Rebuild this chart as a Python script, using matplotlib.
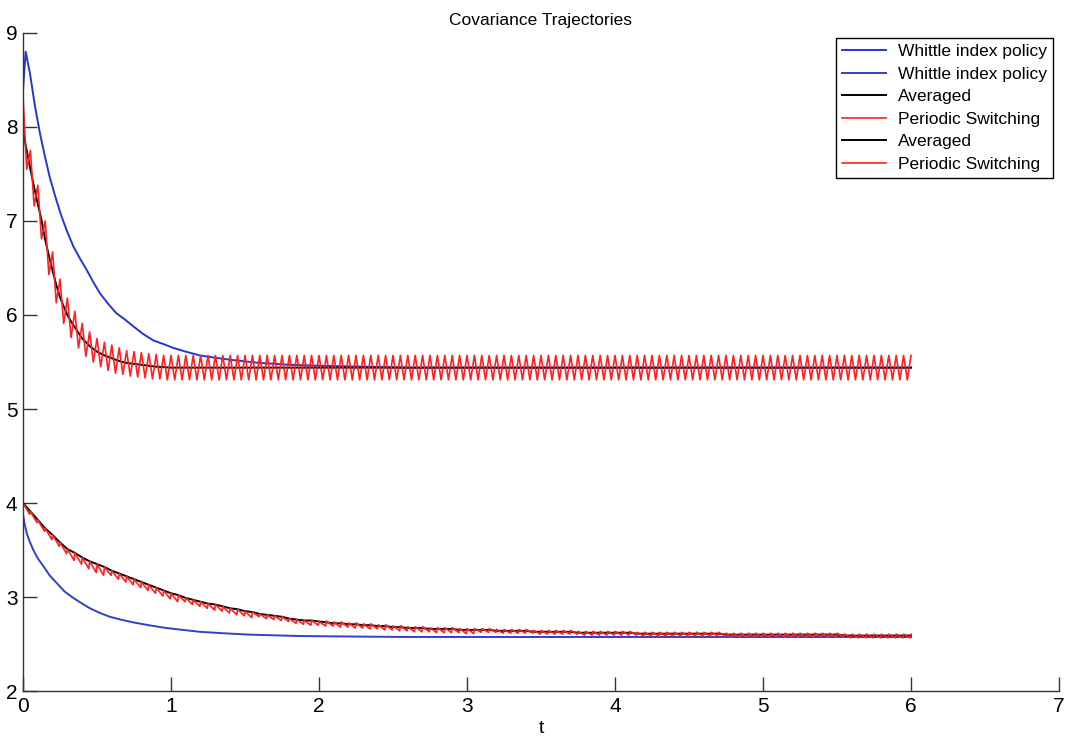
import numpy as np
import matplotlib
matplotlib.use("Agg")
import matplotlib.pyplot as plt

plt.rcParams['font.family'] = ['Liberation Sans', 'DejaVu Sans']

# Whittle index policy, upper trajectory
whittle_up_t = [0, 0.018, 0.047, 0.081, 0.115, 0.149, 0.18, 0.22, 0.26, 0.30, 0.34, 0.385,
                0.43, 0.475, 0.52, 0.575, 0.63, 0.69, 0.745, 0.81, 0.88, 0.95, 1.015, 1.1,
                1.195, 1.3, 1.42, 1.6, 1.8, 2.0, 2.3, 2.6, 3.0, 4.0, 5.0, 6.0]
whittle_up_v = [8.40, 8.80, 8.57, 8.22, 7.93, 7.68, 7.47, 7.25, 7.05, 6.88, 6.73, 6.60,
                6.48, 6.35, 6.23, 6.12, 6.02, 5.95, 5.88, 5.80, 5.73, 5.69, 5.65, 5.61,
                5.57, 5.545, 5.52, 5.49, 5.47, 5.46, 5.45, 5.44, 5.44, 5.44, 5.44, 5.44]

# Whittle index policy, lower trajectory
whittle_lo_t = [0, 0.008, 0.025, 0.045, 0.07, 0.10, 0.137, 0.18, 0.227, 0.28, 0.34, 0.40,
                0.452, 0.52, 0.587, 0.66, 0.745, 0.85, 0.97, 1.08, 1.195, 1.35, 1.53, 1.87,
                2.2, 2.6, 3.0, 4.0, 5.0, 6.0]
whittle_lo_v = [3.88, 3.80, 3.68, 3.59, 3.50, 3.41, 3.33, 3.23, 3.15, 3.06, 2.99, 2.93,
                2.88, 2.83, 2.79, 2.76, 2.73, 2.70, 2.67, 2.65, 2.63, 2.615, 2.60, 2.585,
                2.58, 2.575, 2.575, 2.575, 2.575, 2.575]

# Averaged, upper trajectory
avg_up_t = [0, 0.025, 0.05, 0.075, 0.1, 0.125, 0.15, 0.175, 0.2, 0.225, 0.25, 0.275, 0.3,
            0.325, 0.35, 0.375, 0.4, 0.45, 0.5, 0.55, 0.6, 0.65, 0.7, 0.8, 0.9, 1.0,
            2.0, 3.0, 4.0, 5.0, 6.0]
avg_up_v = [7.95, 7.75, 7.55, 7.36, 7.18, 7.01, 6.80, 6.63, 6.47, 6.32, 6.19, 6.09, 6.00,
            5.93, 5.87, 5.81, 5.75, 5.67, 5.61, 5.57, 5.54, 5.51, 5.49, 5.47, 5.45, 5.44,
            5.44, 5.44, 5.44, 5.44, 5.44]

# Periodic switching, upper trajectory: one value every half period (0.025)
switch_up_v = ([8.32, 7.55, 7.75, 7.16, 7.38, 6.81, 7.00, 6.43, 6.67, 6.13,
                6.38, 5.91, 6.18, 5.76, 6.04, 5.65, 5.91, 5.56, 5.82, 5.50,
                5.75, 5.45, 5.71, 5.41, 5.68, 5.38, 5.65, 5.37, 5.62, 5.35,
                5.61, 5.34, 5.60, 5.33, 5.59, 5.32, 5.58, 5.32, 5.57, 5.31]
               + [5.57, 5.31] * 100 + [5.57])

# Averaged, lower trajectory: one value every switching period (0.05)
avg_lo_v = ([4.00, 3.91, 3.82, 3.73, 3.66, 3.58, 3.51, 3.47, 3.42, 3.38,
             3.35, 3.32, 3.28, 3.25, 3.22, 3.19, 3.16, 3.13, 3.10, 3.07,
             3.04, 3.02, 2.99, 2.97, 2.95, 2.93, 2.92, 2.90, 2.88, 2.87,
             2.85, 2.84, 2.82, 2.81, 2.80, 2.79, 2.77, 2.76, 2.75, 2.75,
             2.74, 2.73, 2.72, 2.72, 2.71, 2.71, 2.70, 2.70, 2.69, 2.69,
             2.68, 2.68, 2.67, 2.67, 2.67, 2.66, 2.66, 2.66, 2.66, 2.65,
             2.65, 2.65, 2.65, 2.65, 2.64, 2.64, 2.64, 2.64, 2.64, 2.63,
             2.63, 2.63, 2.63, 2.63, 2.63, 2.62, 2.62, 2.62, 2.62, 2.62,
             2.62]
            + [2.62] * 2 + [2.61] * 12 + [2.60] * 16 + [2.59] * 10)

# periodic switching teeth: rise above and dip below the averaged curve
switch_lo_rise = [0.0] * 41 + [0.015] * 80
switch_lo_dip = [0.12] * 11 + [0.09] * 10 + [0.07] * 10 + [0.05] * 10 + [0.04] * 20 + [0.025] * 60

period = 0.05
t_half = np.arange(len(switch_up_v)) * period / 2
t_per = np.arange(len(avg_lo_v)) * period

tops = np.array(avg_lo_v) + np.array(switch_lo_rise)
bottoms = np.array(avg_lo_v) - np.array(switch_lo_dip)
t_sw_lo = np.column_stack([t_per, t_per + 0.9 * period]).ravel()[:-1]
v_sw_lo = np.column_stack([tops, bottoms]).ravel()[:-1]

blue = '#2437d6'
blue2 = '#3340c8'
red = '#ff2020'

fig = plt.figure(figsize=(10.7, 7.36), dpi=100)
ax = fig.add_axes([0.0215, 0.0611, 0.9682, 0.8941])

ax.plot(whittle_up_t, whittle_up_v, color=blue, lw=1.4, label='Whittle index policy')
ax.plot(whittle_lo_t, whittle_lo_v, color=blue2, lw=1.4, label='Whittle index policy')
ax.plot(avg_up_t, avg_up_v, color='black', lw=1.4, label='Averaged')
ax.plot(t_half, switch_up_v, color=red, lw=1.2, label='Periodic Switching')
ax.plot(t_per, avg_lo_v, color='black', lw=1.4, label='Averaged')
ax.plot(t_sw_lo, v_sw_lo, color=red, lw=1.2, label='Periodic Switching')

ax.set_xlim(0, 7)
ax.set_ylim(2, 9)
ax.set_xticks(range(0, 8))
ax.set_yticks(range(2, 10))

for s in ['top', 'right']:
    ax.spines[s].set_visible(False)
for s in ['left', 'bottom']:
    ax.spines[s].set_color('#333333')
    ax.spines[s].set_linewidth(1.0)
ax.tick_params(direction='in', length=10, width=1.0, color='#333333',
               labelsize=15, pad=4)

ax.set_title('Covariance Trajectories', fontsize=12.5, pad=6)
ax.set_xlabel('t', fontsize=14, labelpad=3)

leg = ax.legend(loc='upper right', bbox_to_anchor=(0.994, 0.992), borderaxespad=0,
                fontsize=12.5, handlelength=2.5, labelspacing=0.42, fancybox=False,
                framealpha=1, edgecolor='black', borderpad=0.35, handletextpad=0.7)
leg.get_frame().set_linewidth(1.0)

fig.savefig('out.png', dpi=100)
